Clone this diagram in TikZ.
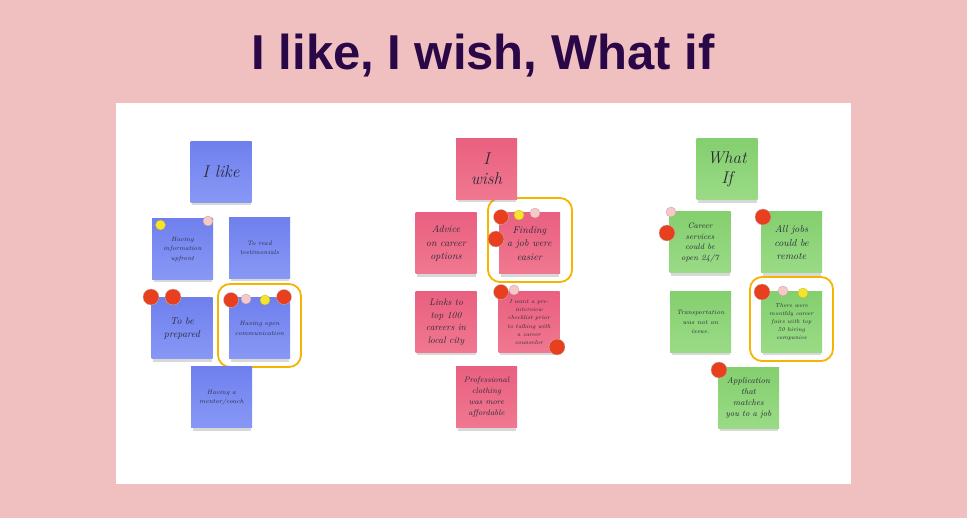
\documentclass[tikz,border=0pt]{standalone}
\usepackage{fontspec}
\newfontfamily\titlefont{Liberation Sans}
\usetikzlibrary{shadows}

\definecolor{bgpink}{HTML}{F0C0C0}
\definecolor{titlecol}{HTML}{2A0848}
\definecolor{blueA}{HTML}{6F80EE}
\definecolor{blueB}{HTML}{8898F5}
\definecolor{pinkA}{HTML}{EA6080}
\definecolor{pinkB}{HTML}{F07890}
\definecolor{greenA}{HTML}{84CF6E}
\definecolor{greenB}{HTML}{9ADB86}
\definecolor{pinred}{HTML}{E8401E}
\definecolor{pinpink}{HTML}{F6C8C8}
\definecolor{pinyel}{HTML}{F4E52C}
\definecolor{ring}{HTML}{F4B400}
\definecolor{ink}{HTML}{2A2A3A}

\tikzset{
  note/.style={minimum width=61pt, minimum height=61pt, inner sep=1pt,
    align=center, text=ink,
    drop shadow={opacity=0.3, shadow xshift=0.5pt, shadow yshift=-4pt, shadow scale=0.96}},
  bluenote/.style={note, top color=blueA, bottom color=blueB},
  pinknote/.style={note, top color=pinkA, bottom color=pinkB},
  greennote/.style={note, top color=greenA, bottom color=greenB},
  headtxt/.style={font=\fontsize{17}{20}\selectfont\itshape},
  midtxt/.style={font=\fontsize{10}{13.5}\selectfont\itshape},
  smalltxt/.style={font=\fontsize{6.3}{9.5}\selectfont\itshape},
  tinytxt/.style={font=\fontsize{5.8}{8.2}\selectfont\itshape},
  pin/.style={circle, inner sep=0pt, draw=black!25, line width=0.3pt},
  redpin/.style={pin, fill=pinred, minimum size=15pt},
  pinkpin/.style={pin, fill=pinpink, draw=pinpink!80!black, minimum size=10pt},
  yelpin/.style={pin, fill=pinyel, draw=pinyel!80!black, minimum size=10pt},
  ringbox/.style={draw=ring, line width=1.8pt, rounded corners=12pt}
}

\begin{document}
\begin{tikzpicture}[x=1pt, y=-1pt]
  % canvas and board
  \fill[bgpink] (0,0) rectangle (967,518);
  \useasboundingbox (0,0) rectangle (967,518);
  \fill[white] (116,103) rectangle (851,484);

  \node[anchor=base, text=titlecol, font=\titlefont\bfseries\fontsize{49}{50}\selectfont]
    (title) at (483,70) {I like, I wish, What if};

  % highlighted groups
  \draw[ringbox] (218,284) rectangle (301,367);
  \draw[ringbox] (488,198) rectangle (572,282);
  \draw[ringbox] (750,277) rectangle (833,361);

  % I like
  \node[bluenote, headtxt] (like) at (221,172) {I like};
  \node[bluenote, smalltxt] (b1) at (182.5,249) {Having\\information\\upfront};
  \node[bluenote, smalltxt] (b2) at (259.5,248) {To read\\testimonials};
  \node[bluenote, midtxt] (b3) at (182,328.5) {To be\\prepared};
  \node[bluenote, smalltxt] (b4) at (259.5,328.5) {Having open\\communication};
  \node[bluenote, smalltxt] (b5) at (221.5,397.5) {Having a\\mentor/coach};

  % I wish
  \node[pinknote, headtxt] (wish) at (486.5,169) {I\\wish};
  \node[pinknote, midtxt] (p1) at (446,243.5) {Advice\\on career\\options};
  \node[pinknote, midtxt] (p2) at (529.5,243.5) {Finding\\a job were\\easier};
  \node[pinknote, font=\fontsize{9.5}{12.5}\selectfont\itshape] (p3) at (446,322) {Links to\\top 100\\careers in\\local city};
  \node[pinknote, tinytxt] (p4) at (529,322) {I want a pre-\\interview\\checklist prior\\to talking with\\a career\\counselor};
  \node[pinknote, font=\fontsize{8}{11}\selectfont\itshape] (p5) at (486.5,397.5) {Professional\\clothing\\was more\\affordable};

  % What if
  \node[greennote, headtxt] (what) at (727,169.5) {What\\If};
  \node[greennote, font=\fontsize{8}{10.5}\selectfont\itshape] (g1) at (700,242.5) {Career\\services\\could be\\open 24/7};
  \node[greennote, midtxt] (g2) at (791.5,242.5) {All jobs\\could be\\remote};
  \node[greennote, smalltxt] (g3) at (700.5,322) {Transportation\\was not an\\issue.};
  \node[greennote, tinytxt] (g4) at (791.5,322) {There were\\monthly career\\fairs with top\\50 hiring\\companies};
  \node[greennote, font=\fontsize{8.5}{11}\selectfont\itshape] (g5) at (748.5,398) {Application\\that\\matches\\you to a job};

  % votes
  \node[yelpin] (v1) at (160.5,225) {};
  \node[pinkpin] (v2) at (208,221) {};
  \node[redpin, minimum size=16pt] (v3) at (151,297) {};
  \node[redpin, minimum size=16pt] (v4) at (173,297) {};
  \node[redpin] (v5) at (231,300) {};
  \node[pinkpin] (v6) at (246,299) {};
  \node[yelpin] (v7) at (265,300) {};
  \node[redpin] (v8) at (284,297) {};

  \node[redpin] (v9) at (501,217) {};
  \node[yelpin] (v10) at (519,215) {};
  \node[pinkpin] (v11) at (535,213) {};
  \node[redpin, minimum size=16pt] (v12) at (496,239) {};
  \node[redpin] (v13) at (501,292) {};
  \node[pinkpin] (v14) at (514,290) {};
  \node[redpin, minimum size=16pt] (v15) at (557,347) {};

  \node[pinkpin] (v16) at (671,212) {};
  \node[redpin, minimum size=16pt] (v17) at (667,233) {};
  \node[redpin, minimum size=16pt] (v18) at (763,217) {};
  \node[redpin, minimum size=16pt] (v19) at (762,292) {};
  \node[pinkpin] (v20) at (783,291) {};
  \node[yelpin] (v21) at (803,293) {};
  \node[redpin, minimum size=16pt] (v22) at (719,370) {};
\end{tikzpicture}
\end{document}
